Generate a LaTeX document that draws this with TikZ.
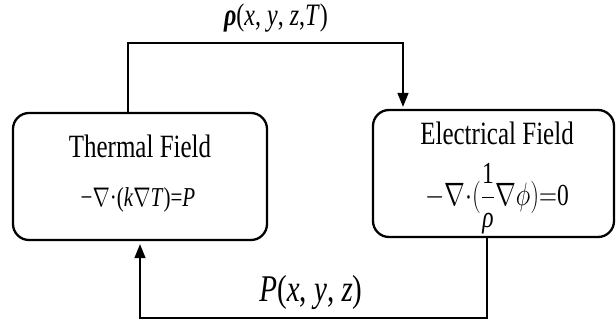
\documentclass[tikz,border=0pt]{standalone}
\usepackage{graphicx}
\usepackage{fontspec}
\setmainfont{Liberation Serif}
\usetikzlibrary{arrows.meta}
\newcommand{\tallt}[2]{\fontsize{#1}{#1}\selectfont\scalebox{1}[1.3]{#2}}
\begin{document}
\begin{tikzpicture}[x=1pt,y=-1pt,
  box/.style={draw,line width=2.3pt,rounded corners=16pt,inner sep=0pt},
  conn/.style={line width=1.5pt},
  tip/.style={-{Triangle[length=14pt,width=11pt]}},
  lbl/.style={inner sep=0pt}]
\useasboundingbox (0,0) rectangle (616,322);
\node[box, minimum width=254pt, minimum height=127pt] (thermal) at (140,176.5) {};
\node[box, minimum width=241pt, minimum height=127pt] (elec) at (493.5,173.5) {};
\node[lbl] (ttitle) at (140,146) {\tallt{25}{Thermal Field}};
\node[lbl] (teq) at (138,200) {\tallt{21}{−$\nabla$·(\textit{k}$\nabla$\textit{T})=\textit{P}}};
\node[lbl] (etitle) at (497,133) {\tallt{25}{Electrical Field}};
\node[lbl] (eeq) at (497,199) {\tallt{23.5}{$\displaystyle-\nabla{\cdot}(\frac{\mbox{1}}{\mbox{\textit{ρ}}}\nabla\phi){=}\mbox{0}$}};
\coordinate (t1) at (128,43);
\coordinate (t2) at (403,43);
\coordinate (b1) at (487,318);
\coordinate (b2) at (140,318);
\draw[conn,tip,shorten >=2pt] (thermal.north -| t1) |- (t2) -- (elec.north -| t2);
\draw[conn,tip,shorten >=3pt] (elec.south -| b1) |- (b2) -- (thermal.south -| b2);
\node[lbl] (rho) at (276,18) {\tallt{24}{\textbf{\textit{ρ}}(\textit{x}, \textit{y}, \textit{z},\textit{T})}};
\node[lbl] (pl) at (311,292) {\tallt{29}{\textit{P}(\textit{x}, \textit{y}, \textit{z})}};
\end{tikzpicture}
\end{document}
